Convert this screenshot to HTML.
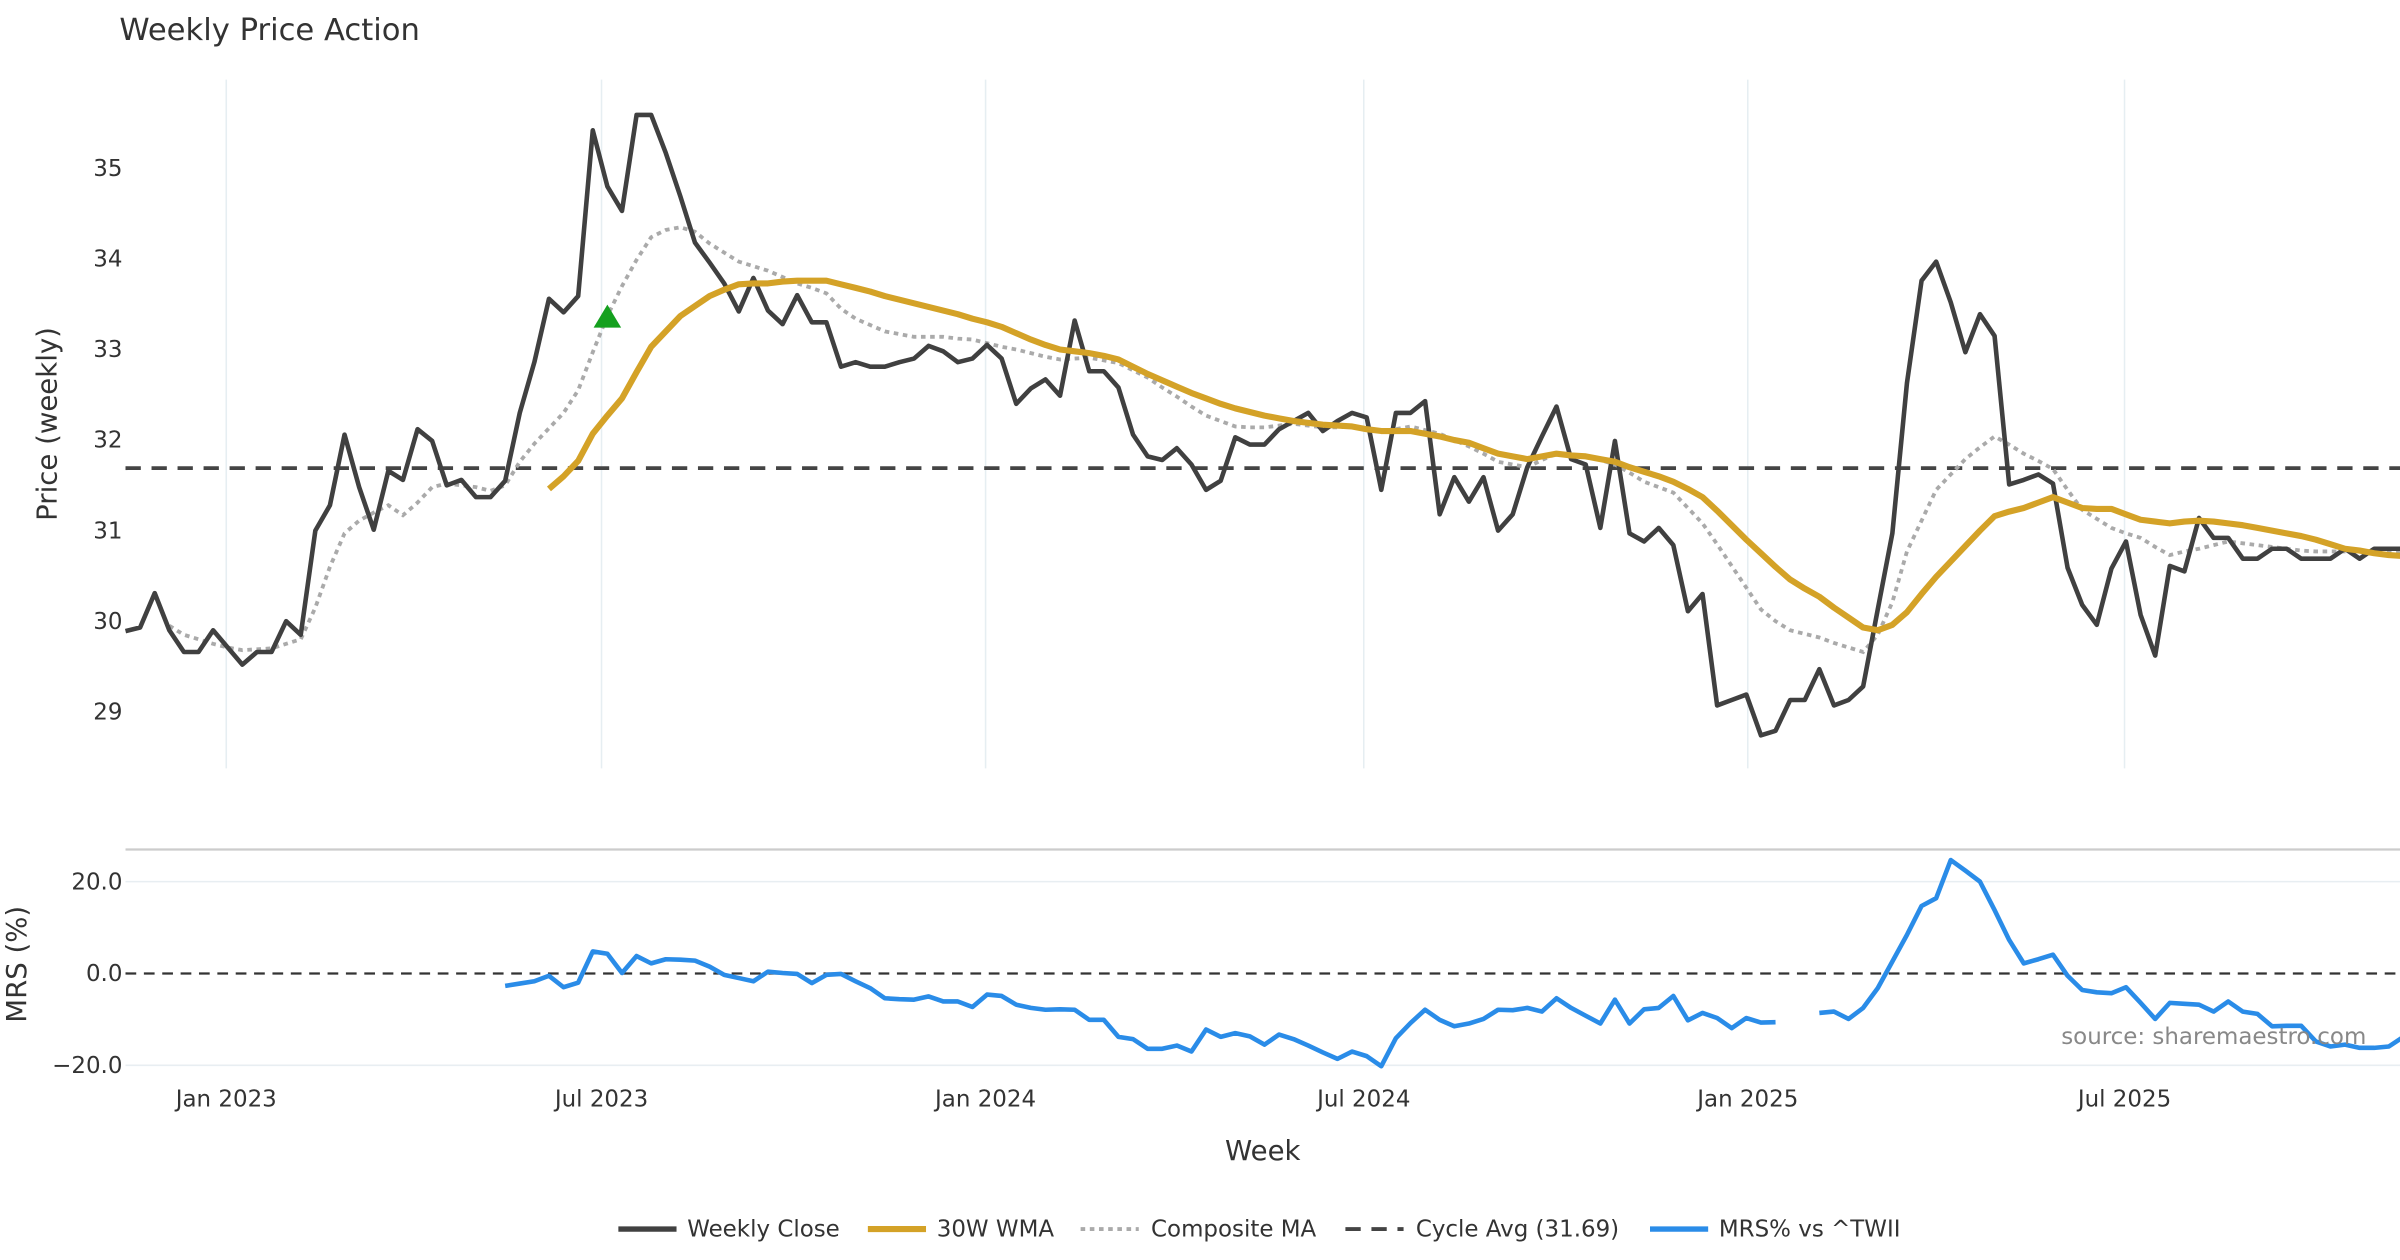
<!DOCTYPE html>
<html><head><meta charset="utf-8"><style>
html,body{margin:0;padding:0;background:#fff;}
svg{display:block;font-family:"DejaVu Sans","Liberation Sans",sans-serif;}
</style></head><body>
<svg id="chart" width="2400" height="1260" viewBox="0 0 1568 823.2" xmlns="http://www.w3.org/2000/svg">
<rect width="1568" height="823.2" fill="#fff"/>
<text x="78" y="26" font-size="20" fill="#333">Weekly Price Action</text>
<g id="grid"></g>
<g id="marks"></g>
<text transform="translate(37,277) rotate(-90)" text-anchor="middle" font-size="18" fill="#333">Price (weekly)</text>
<text transform="translate(17,630) rotate(-90)" text-anchor="middle" font-size="18" fill="#333">MRS (%)</text>
<text x="825" y="758" text-anchor="middle" font-size="18" fill="#333">Week</text>
<text x="1546" y="682" text-anchor="end" font-size="15" fill="#888">source: sharemaestro.com</text>
<g font-size="15" fill="#333">
<line x1="404" y1="803" x2="442" y2="803" stroke="#404040" stroke-width="3.5"/><text x="449" y="808">Weekly Close</text>
<line x1="567" y1="803" x2="605" y2="803" stroke="#d4a227" stroke-width="4"/><text x="612" y="808">30W WMA</text>
<line x1="706" y1="803" x2="744" y2="803" stroke="#aaa" stroke-width="2.5" stroke-dasharray="3,3"/><text x="752" y="808">Composite MA</text>
<line x1="879" y1="803" x2="917" y2="803" stroke="#444" stroke-width="2.5" stroke-dasharray="10,7"/><text x="925" y="808">Cycle Avg (31.69)</text>
<line x1="1078" y1="803" x2="1116" y2="803" stroke="#2a8ce8" stroke-width="3.5"/><text x="1123" y="808">MRS% vs ^TWII</text>
</g>
</svg>
<script>
const closeVals=[29.89,29.93,30.31,29.9,29.66,29.66,29.9,29.71,29.52,29.66,29.66,30.0,29.85,31.0,31.28,32.06,31.48,31.01,31.66,31.56,32.12,31.99,31.5,31.56,31.37,31.37,31.55,32.3,32.86,33.56,33.41,33.59,35.42,34.8,34.53,35.59,35.59,35.17,34.69,34.18,33.96,33.73,33.42,33.79,33.43,33.28,33.6,33.3,33.3,32.81,32.86,32.81,32.81,32.86,32.9,33.04,32.98,32.86,32.9,33.05,32.9,32.4,32.57,32.67,32.49,33.32,32.76,32.76,32.58,32.06,31.82,31.78,31.91,31.73,31.45,31.55,32.03,31.95,31.95,32.12,32.21,32.3,32.1,32.21,32.3,32.25,31.45,32.3,32.3,32.43,31.18,31.59,31.32,31.59,31.0,31.18,31.7,32.04,32.37,31.79,31.73,31.03,31.99,30.97,30.88,31.03,30.84,30.11,30.3,29.07,29.13,29.19,28.74,28.79,29.13,29.13,29.47,29.07,29.13,29.28,30.13,30.97,32.63,33.76,33.97,33.52,32.97,33.39,33.15,31.51,31.56,31.62,31.52,30.59,30.18,29.96,30.58,30.88,30.07,29.62,30.61,30.55,31.14,30.92,30.92,30.69,30.69,30.8,30.8,30.69,30.69,30.69,30.8,30.69,30.8,30.8,30.8];
const wmaVals=[null,null,null,null,null,null,null,null,null,null,null,null,null,null,null,null,null,null,null,null,null,null,null,null,null,null,null,null,null,31.46,31.6,31.77,32.07,32.27,32.46,32.75,33.03,33.2,33.37,33.48,33.59,33.66,33.72,33.73,33.73,33.75,33.76,33.76,33.76,33.72,33.68,33.64,33.59,33.55,33.51,33.47,33.43,33.39,33.34,33.3,33.25,33.18,33.11,33.05,33.0,32.98,32.96,32.93,32.89,32.81,32.73,32.66,32.59,32.52,32.46,32.4,32.35,32.31,32.27,32.24,32.21,32.19,32.17,32.16,32.15,32.12,32.1,32.1,32.1,32.07,32.04,32.0,31.97,31.91,31.85,31.82,31.79,31.82,31.85,31.83,31.82,31.79,31.76,31.7,31.65,31.6,31.54,31.46,31.37,31.22,31.06,30.9,30.75,30.6,30.46,30.36,30.27,30.15,30.04,29.93,29.9,29.96,30.1,30.3,30.49,30.66,30.83,31.0,31.16,31.21,31.25,31.31,31.37,31.31,31.25,31.24,31.24,31.18,31.12,31.1,31.08,31.1,31.11,31.1,31.08,31.06,31.03,31.0,30.97,30.94,30.9,30.85,30.8,30.78,30.75,30.73,30.72];
const compVals=[null,null,null,29.95,29.85,29.8,29.75,29.71,29.68,29.69,29.7,29.75,29.8,30.15,30.6,30.97,31.11,31.2,31.28,31.17,31.31,31.48,31.52,31.5,31.48,31.44,31.5,31.76,31.96,32.13,32.3,32.55,32.97,33.37,33.7,33.99,34.24,34.32,34.35,34.3,34.17,34.07,33.97,33.92,33.87,33.8,33.73,33.68,33.62,33.45,33.34,33.27,33.2,33.17,33.14,33.14,33.14,33.12,33.11,33.07,33.03,33.0,32.96,32.92,32.89,32.9,32.91,32.88,32.85,32.77,32.69,32.58,32.48,32.37,32.27,32.21,32.15,32.14,32.14,32.16,32.18,32.16,32.14,32.14,32.15,32.12,32.1,32.12,32.15,32.11,32.07,32.0,31.93,31.85,31.76,31.73,31.7,31.78,31.85,31.84,31.83,31.78,31.73,31.64,31.54,31.48,31.42,31.25,31.08,30.85,30.61,30.37,30.13,30.0,29.9,29.86,29.82,29.76,29.71,29.66,29.85,30.21,30.77,31.11,31.45,31.62,31.79,31.92,32.04,31.95,31.85,31.77,31.68,31.45,31.23,31.13,31.03,30.97,30.92,30.82,30.73,30.77,30.8,30.84,30.88,30.86,30.84,30.82,30.8,30.78,30.77,30.77,30.77,30.77,30.77,30.76,30.75];
const mrsVals=[null,null,null,null,null,null,null,null,null,null,null,null,null,null,null,null,null,null,null,null,null,null,null,null,null,null,-2.7,-2.2,-1.7,-0.5,-3.0,-2.0,4.8,4.3,0.1,3.8,2.2,3.1,3.0,2.8,1.5,-0.3,-1.0,-1.7,0.4,0.1,-0.1,-2.1,-0.3,-0.1,-1.7,-3.2,-5.4,-5.6,-5.7,-5.0,-6.1,-6.1,-7.3,-4.6,-4.9,-6.8,-7.5,-7.9,-7.8,-7.9,-10.1,-10.1,-13.8,-14.3,-16.4,-16.4,-15.7,-17.0,-12.2,-13.8,-13.0,-13.7,-15.5,-13.3,-14.3,-15.7,-17.2,-18.6,-17.0,-18.0,-20.2,-14.1,-10.8,-7.9,-10.1,-11.5,-10.9,-9.9,-7.9,-8.0,-7.5,-8.3,-5.4,-7.5,-9.2,-10.9,-5.7,-10.9,-7.8,-7.5,-4.9,-10.2,-8.6,-9.7,-11.9,-9.7,-10.7,-10.6,null,null,-8.6,-8.3,-9.9,-7.5,-3.2,2.6,8.4,14.7,16.4,24.7,22.4,20.0,13.8,7.3,2.2,3.1,4.1,-0.5,-3.6,-4.1,-4.3,-3.0,-6.4,-9.9,-6.4,-6.6,-6.8,-8.3,-6.1,-8.3,-8.8,-11.5,-11.4,-11.4,-14.8,-15.9,-15.5,-16.2,-16.2,-15.9,-13.8,-13.0];
const cycleAvg=31.69;
const signalIdx=[33];
const signalVals=[33.36];
const priceTicks=[29,30,31,32,33,34,35];
const mrsTicks=[-20,0,20];
const mrsTickLabels=["\u221220.0","0.0","20.0"];
const dateTickIdx=[6.9,32.6,58.9,84.8,111.1,136.9];
const dateTickLabels=["Jan 2023","Jul 2023","Jan 2024","Jul 2024","Jan 2025","Jul 2025"];

const NS="http://www.w3.org/2000/svg";
const X=i=>82+i*9.54;
const Y=v=>110+(35-v)*59.17;
const YM=v=>636-v*3;
const grid=document.getElementById('grid'), marks=document.getElementById('marks');
function mk(tag,attrs,parent){const e=document.createElementNS(NS,tag);for(const k in attrs)e.setAttribute(k,attrs[k]);parent.appendChild(e);return e;}
function pathFrom(vals,fy){let d='',pen=false;vals.forEach((v,i)=>{if(v===null){pen=false;return;}d+=(pen?'L':'M')+X(i).toFixed(2)+','+fy(v).toFixed(2);pen=true;});return d;}

dateTickIdx.forEach((t,k)=>{
  const g=mk('line',{x1:X(t),x2:X(t),y1:52,y2:502,stroke:'#e6eef2','stroke-width':1},grid);
  
  
  const tx=mk('text',{x:X(t),y:723,'text-anchor':'middle','font-size':15,fill:'#333'},grid);
  tx.textContent=dateTickLabels[k];
  
  
});
priceTicks.forEach(v=>{
  const t=mk('text',{x:80,y:Y(v)+5,'text-anchor':'end','font-size':15,fill:'#333'},grid);
  t.textContent=v;
  
  
});
const sep=mk('line',{x1:82,x2:1568,y1:555,y2:555,stroke:'#ccc','stroke-width':1.5},grid);


mrsTicks.forEach((v,k)=>{
  if(v!==0){const l=mk('line',{x1:82,x2:1568,y1:YM(v),y2:YM(v),stroke:'#e8eef2','stroke-width':1},grid);
  
  }
  const t=mk('text',{x:80,y:YM(v)+5,'text-anchor':'end','font-size':15,fill:'#333'},grid);
  t.textContent=mrsTickLabels[k];
  
  
});
const zl=mk('line',{x1:82,x2:1568,y1:YM(0),y2:YM(0),stroke:'#333','stroke-width':1.5,'stroke-dasharray':'7,5'},marks);


const cl=mk('line',{x1:82,x2:1568,y1:Y(cycleAvg),y2:Y(cycleAvg),stroke:'#444','stroke-width':2.5,'stroke-dasharray':'10,7'},marks);


const cp=mk('path',{d:pathFrom(compVals,Y),fill:'none',stroke:'#aaa','stroke-width':2.5,'stroke-dasharray':'3,3'},marks);


const cc=mk('path',{d:pathFrom(closeVals,Y),fill:'none',stroke:'#404040','stroke-width':3,'stroke-linejoin':'round'},marks);


const wm=mk('path',{d:pathFrom(wmaVals,Y),fill:'none',stroke:'#d4a227','stroke-width':4,'stroke-linejoin':'round'},marks);


signalIdx.forEach((s,k)=>{
  const x=X(s),y=Y(signalVals[k]);
  const tri=mk('polygon',{points:`${x-9},${y+7} ${x+9},${y+7} ${x},${y-8}`,fill:'#14a01e'},marks);
  
  
});
const mr=mk('path',{d:pathFrom(mrsVals,YM),fill:'none',stroke:'#2a8ce8','stroke-width':3,'stroke-linejoin':'round'},marks);


</script>
</body></html>
